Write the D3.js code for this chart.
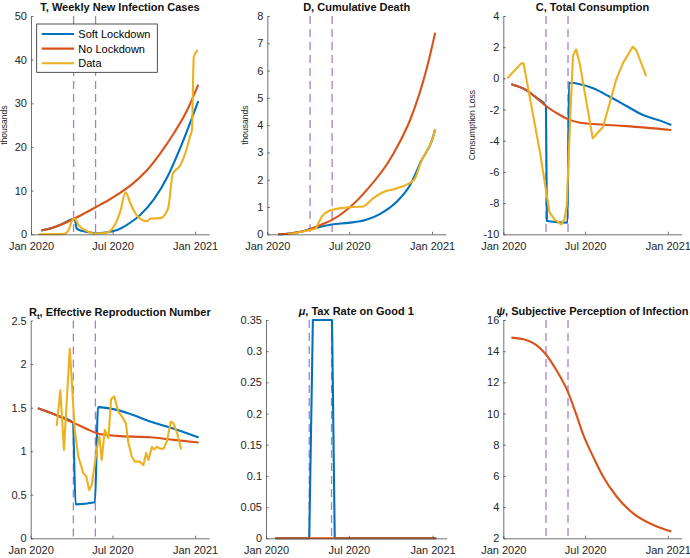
<!DOCTYPE html>
<html><head><meta charset="utf-8">
<script src="https://cdn.jsdelivr.net/npm/d3@7"></script>
<style>
body{margin:0;background:#fff}
svg{display:block;font-family:"Liberation Sans",Arial,Helvetica,sans-serif}
</style>
</head><body><svg id="c" width="690" height="558"></svg>
<script>
// ---------- data ----------
const xDomainDates = ["2020-01-01", "2021-02-01"];
const xTickDates = ["2020-01-01", "2020-07-01", "2021-01-01"];
const lockdownDates = ["2020-04-05", "2020-05-24"];
const seriesNames = ["Soft Lockdown", "No Lockdown", "Data"];

// T, weekly new infection cases (thousands)
const tSoft = [["2020-01-24",0.85],["2020-02-15",1.4],["2020-03-10",2.3],["2020-04-05",3.5],["2020-04-08",3.3],["2020-04-12",1.3],["2020-04-25",0.75],["2020-05-10",0.45],["2020-05-24",0.25],["2020-06-10",0.35],["2020-07-01",0.7],["2020-07-20",1.4],["2020-08-10",2.7],["2020-09-01",4.5],["2020-10-01",8.0],["2020-11-01",13.3],["2020-12-01",20.3],["2021-01-08",30.5]];
const tNo = [["2020-01-24",0.85],["2020-02-15",1.4],["2020-03-10",2.3],["2020-04-05",3.5],["2020-05-01",4.9],["2020-05-24",6.2],["2020-06-15",7.4],["2020-07-15",9.3],["2020-08-15",11.6],["2020-09-15",14.6],["2020-10-15",18.5],["2020-11-15",23.2],["2020-12-15",28.6],["2021-01-08",34.3]];
const tData = [["2020-01-18",0],["2020-03-15",0.1],["2020-03-25",1.0],["2020-04-01",3.0],["2020-04-07",3.6],["2020-04-17",2.0],["2020-05-02",0.9],["2020-05-20",0.2],["2020-06-15",0.3],["2020-07-04",1.8],["2020-07-18",5.2],["2020-07-30",9.6],["2020-08-10",7.0],["2020-08-25",4.2],["2020-09-16",3.0],["2020-09-23",3.6],["2020-10-16",3.7],["2020-10-27",4.7],["2020-11-03",6.5],["2020-11-12",13.8],["2020-11-29",15.8],["2020-12-10",18.5],["2020-12-21",22.5],["2020-12-25",23.9],["2020-12-29",40.6],["2021-01-07",42.2]];

// D, cumulative death (thousands)
const dSoft = [["2020-01-25",0],["2020-02-20",0.03],["2020-03-15",0.09],["2020-04-03",0.18],["2020-04-16",0.23],["2020-05-23",0.36],["2020-06-30",0.42],["2020-08-06",0.52],["2020-09-08",0.75],["2020-10-15",1.2],["2020-11-13",1.8],["2020-12-09",2.72],["2021-01-01",3.45],["2021-01-08",3.85]];
const dNo = [["2020-01-25",0],["2020-02-20",0.03],["2020-03-15",0.09],["2020-04-03",0.18],["2020-05-01",0.36],["2020-05-23",0.52],["2020-07-03",1.0],["2020-08-15",1.74],["2020-09-22",2.55],["2020-10-07",2.95],["2020-10-18",3.28],["2020-11-13",4.18],["2020-12-21",6.13],["2021-01-08",7.39]];
const dData = [["2020-02-16",0],["2020-04-03",0.15],["2020-04-16",0.2],["2020-05-01",0.65],["2020-05-19",0.87],["2020-06-25",0.98],["2020-08-01",1.02],["2020-08-23",1.32],["2020-09-14",1.54],["2020-10-14",1.68],["2020-11-22",2.0],["2020-12-09",2.72],["2021-01-01",3.45],["2021-01-08",3.86]];

// C, total consumption (loss)
const cSoft = [["2020-01-19",-0.38],["2020-02-21",-0.75],["2020-03-15",-1.25],["2020-04-05",-1.77],["2020-04-07",-9.15],["2020-05-23",-9.25],["2020-05-26",-0.28],["2020-07-19",-0.64],["2020-08-25",-1.18],["2020-10-01",-1.77],["2020-11-07",-2.35],["2020-12-15",-2.71],["2021-01-09",-2.99]];
const cNo = [["2020-01-19",-0.38],["2020-02-21",-0.75],["2020-03-15",-1.25],["2020-04-05",-1.77],["2020-05-06",-2.35],["2020-05-25",-2.63],["2020-06-20",-2.84],["2020-07-19",-2.93],["2020-10-01",-3.06],["2021-01-09",-3.31]];
const cData = [["2020-01-10",0.0],["2020-02-10",0.96],["2020-02-15",0.96],["2020-03-23",-4.8],["2020-04-07",-7.55],["2020-04-13",-8.6],["2020-04-24",-9.04],["2020-05-09",-9.36],["2020-05-16",-9.04],["2020-05-21",-8.2],["2020-05-27",-3.94],["2020-06-04",1.44],["2020-06-11",1.86],["2020-06-19",0.96],["2020-07-18",-3.85],["2020-08-10",-3.1],["2020-09-08",-0.1],["2020-09-23",0.96],["2020-10-15",2.03],["2020-10-23",1.8],["2020-11-14",0.15]];

// R_t, effective reproduction number
const rSoft = [["2020-01-17",1.494],["2020-02-26",1.417],["2020-04-04",1.33],["2020-04-10",0.39],["2020-05-23",0.414],["2020-05-30",1.506],["2020-07-10",1.475],["2020-08-16",1.417],["2020-09-23",1.34],["2020-10-30",1.283],["2020-12-06",1.22],["2021-01-09",1.157]];
const rNo = [["2020-01-17",1.494],["2020-02-26",1.417],["2020-04-08",1.32],["2020-05-06",1.253],["2020-05-27",1.207],["2020-06-21",1.185],["2020-07-10",1.176],["2020-09-23",1.16],["2020-11-15",1.13],["2021-01-09",1.10]];
const rData = [["2020-02-28",1.29],["2020-03-07",1.70],["2020-03-15",1.015],["2020-03-28",2.18],["2020-04-08",1.245],["2020-04-16",0.94],["2020-04-27",0.75],["2020-05-04",0.71],["2020-05-10",0.555],["2020-05-16",0.61],["2020-05-27",1.015],["2020-06-02",1.17],["2020-06-07",0.90],["2020-06-14",1.245],["2020-06-22",1.15],["2020-06-28",1.60],["2020-07-05",1.63],["2020-07-14",1.455],["2020-07-22",1.40],["2020-07-31",1.32],["2020-08-05",1.11],["2020-08-13",0.94],["2020-08-20",0.88],["2020-08-31",0.88],["2020-09-08",0.84],["2020-09-14",0.98],["2020-09-19",0.90],["2020-09-27",1.05],["2020-10-02",1.02],["2020-10-08",1.05],["2020-10-15",1.03],["2020-10-23",1.03],["2020-10-30",1.11],["2020-11-08",1.34],["2020-11-14",1.32],["2020-11-23",1.19],["2020-12-01",1.02]];

// mu, tax rate on good 1
const muSoft = [["2020-01-21",0],["2020-04-05",0],["2020-04-13",0.35],["2020-05-25",0.35],["2020-05-31",0],["2021-01-09",0]];
const muNo = [["2020-01-21",0],["2021-01-09",0]];

// psi, subjective perception of infection
const psiNo = [["2020-01-19",14.87],["2020-02-21",14.72],["2020-03-14",14.4],["2020-04-04",13.82],["2020-04-28",12.79],["2020-05-22",11.5],["2020-06-08",10.22],["2020-06-26",8.72],["2020-07-19",7.23],["2020-08-10",5.96],["2020-09-09",4.68],["2020-10-16",3.6],["2020-11-30",2.85],["2021-01-09",2.43]];

// tick values
const tTicks = [0,10,20,30,40,50];
const dTicks = [0,1,2,3,4,5,6,7,8];
const cTicks = [-10,-8,-6,-4,-2,0,2,4];
const rTicks = [0,0.5,1,1.5,2,2.5];
const muTicks = [0,0.05,0.1,0.15,0.2,0.25,0.3,0.35];
const psiTicks = [2,4,6,8,10,12,14,16];

// ---------- drawing ----------
const parse = d3.utcParse("%Y-%m-%d");
const BLUE = "#0072BD", ORANGE = "#D95319", YELLOW = "#EDB120", LAV = "#A87FCB";
const colors = [BLUE, ORANGE, YELLOW];
const svg = d3.select("#c");

const panels = [
  {box:[31,209,16,234.3], ylab:"thousands", ylabX:5, ticks:tTicks, series:[tSoft,tNo,tData], dataCurve:d3.curveMonotoneX, legend:true,
   title:[{t:"T, Weekly New Infection Cases"}]},
  {box:[267.3,446,16,234.3], ylab:"thousands", ylabX:246, ticks:dTicks, series:[dSoft,dNo,dData], dataCurve:d3.curveMonotoneX,
   title:[{t:"D, Cumulative Death"}]},
  {box:[503.3,681.7,16,234.3], ylab:"Consumption Loss", ylabX:473, ticks:cTicks, series:[cSoft,cNo,cData], dataCurve:d3.curveLinear,
   title:[{t:"C, Total Consumption"}]},
  {box:[30.7,209,320.6,538.3], ticks:rTicks, series:[rSoft,rNo,rData], dataCurve:d3.curveLinear,
   title:[{t:"R"},{t:"t",sub:true},{t:", Effective Reproduction Number"}]},
  {box:[266,446.7,320,538.3], ticks:muTicks, series:[muSoft,muNo,null], dataCurve:d3.curveLinear, linear:true,
   title:[{t:"\u03bc",it:true},{t:", Tax Rate on Good 1"}]},
  {box:[503.3,681.7,320,538.3], ticks:psiTicks, series:[null,psiNo,null], dataCurve:d3.curveLinear,
   title:[{t:"\u03c8",it:true},{t:", Subjective Perception of Infection"}]}
];

const fmtX = d3.utcFormat("%b %Y");

panels.forEach(p => {
  const [x0,x1,y0,y1] = p.box;
  const x = d3.scaleUtc().domain(xDomainDates.map(parse)).range([x0,x1]);
  const y = d3.scaleLinear().domain(d3.extent(p.ticks)).range([y1,y0]);
  const g = svg.append("g");

  // lockdown dashed lines
  lockdownDates.forEach(d => {
    g.append("line").attr("x1",x(parse(d))).attr("x2",x(parse(d)))
      .attr("y1",y0).attr("y2",y1)
      .attr("stroke",LAV).attr("stroke-width",1.3).attr("stroke-dasharray","8,5");
  });

  // series
  p.series.forEach((s,i) => {
    if (!s) return;
    const curve = i===2 ? p.dataCurve : (p.linear ? d3.curveLinear : d3.curveMonotoneX);
    const line = d3.line().x(d=>x(parse(d[0]))).y(d=>y(d[1])).curve(curve);
    g.append("path").datum(s).attr("d",line).attr("fill","none")
      .attr("stroke",colors[i]).attr("stroke-width",2.1).attr("stroke-linejoin","round");
  });

  // axes
  const xa = d3.axisBottom(x).tickValues(xTickDates.map(parse)).tickFormat(fmtX)
    .tickSizeInner(-2.5).tickSizeOuter(0).tickPadding(7.5);
  const ya = d3.axisLeft(y).tickValues(p.ticks).tickFormat(d=>String(d))
    .tickSizeInner(-2.5).tickSizeOuter(0).tickPadding(4);
  const gx = g.append("g").attr("transform",`translate(0,${y1})`).call(xa);
  const gy = g.append("g").attr("transform",`translate(${x0},0)`).call(ya);
  [gx,gy].forEach(a => {
    a.select(".domain").attr("stroke","#4d4d4d").attr("stroke-width",0.8);
    a.selectAll(".tick line").attr("stroke","#4d4d4d").attr("stroke-width",0.8);
    a.selectAll("text").attr("fill","#262626").style("font-size","11px")
      .style("font-family","'Liberation Sans',Arial,sans-serif");
  });

  // y label
  if (p.ylab) {
    g.append("text").attr("transform",`translate(${p.ylabX},${(y0+y1)/2}) rotate(-90)`)
      .attr("text-anchor","middle").attr("dominant-baseline","middle")
      .style("font-size","8.5px").attr("fill","#262626").text(p.ylab);
  }

  // title
  const tt = g.append("text").attr("x",(x0+x1)/2).attr("y",y0-5)
    .attr("text-anchor","middle").style("font-size","11px").style("font-weight","bold").attr("fill","#111");
  p.title.forEach(part => {
    const ts = tt.append("tspan").text(part.t);
    if (part.it) ts.style("font-style","italic");
    if (part.sub) { ts.attr("dy",3).style("font-size","8px"); }
    else if (tt.selectAll("tspan").size()>1 && p.title.some(q=>q.sub)) { ts.attr("dy",-3); }
  });

  // legend
  if (p.legend) {
    const lg = g.append("g");
    lg.append("rect").attr("x",36.7).attr("y",24).attr("width",120.6).attr("height",48.3)
      .attr("fill","#fff").attr("stroke","#262626").attr("stroke-width",0.8);
    seriesNames.forEach((n,i) => {
      const yy = 34 + i*14.65;
      lg.append("line").attr("x1",41.7).attr("x2",74).attr("y1",yy).attr("y2",yy)
        .attr("stroke",colors[i]).attr("stroke-width",2.1);
      lg.append("text").attr("x",78.3).attr("y",yy).attr("dominant-baseline","central")
        .style("font-size","11px").attr("fill","#000").text(n);
    });
  }
});
</script>
</body></html>
